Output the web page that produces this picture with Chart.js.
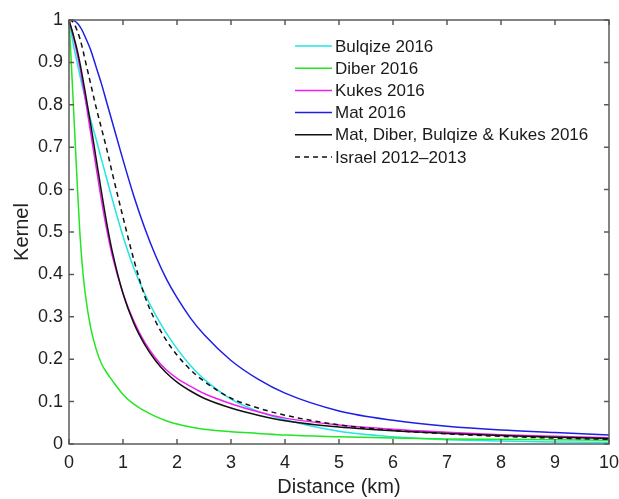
<!DOCTYPE html>
<html>
<head>
<meta charset="utf-8">
<script src="https://cdn.jsdelivr.net/npm/chart.js@4.4.0/dist/chart.umd.min.js"></script>
<style>
  html, body { margin: 0; padding: 0; background: #fff; }
  #wrap { width: 619px; height: 499px; }
</style>
</head>
<body>
<div id="wrap"><canvas id="kernelChart" width="619" height="499"></canvas></div>
<script>
// distance from source (km) and kernel values read at each distance
const distance = [0, 0.05, 0.1, 0.15, 0.2, 0.25, 0.3, 0.4, 0.5, 0.6, 0.7, 0.8, 1.0, 1.2, 1.4, 1.6, 1.8, 2.0, 2.25, 2.5, 3, 3.5, 4, 5, 6, 7, 8, 9, 10];

const bulqize = [1, 0.963, 0.93, 0.9, 0.87, 0.842, 0.815, 0.765, 0.72, 0.672, 0.625, 0.578, 0.49, 0.415, 0.355, 0.305, 0.262, 0.225, 0.185, 0.153, 0.106, 0.077, 0.057, 0.03, 0.017, 0.010, 0.007, 0.005, 0.004];
const diber = [1, 0.88, 0.75, 0.62, 0.5, 0.415, 0.355, 0.275, 0.225, 0.19, 0.168, 0.15, 0.117, 0.094, 0.078, 0.065, 0.055, 0.047, 0.04, 0.035, 0.029, 0.025, 0.021, 0.017, 0.014, 0.012, 0.011, 0.01, 0.009];
const kukes = [1, 0.976, 0.95, 0.921, 0.89, 0.853, 0.815, 0.735, 0.655, 0.575, 0.505, 0.445, 0.355, 0.29, 0.24, 0.203, 0.175, 0.155, 0.136, 0.119, 0.095, 0.076, 0.061, 0.045, 0.035, 0.028, 0.022, 0.018, 0.015];
const mat = [1, 0.9995, 0.998, 0.993, 0.985, 0.974, 0.96, 0.93, 0.89, 0.85, 0.805, 0.76, 0.67, 0.585, 0.51, 0.445, 0.39, 0.345, 0.297, 0.258, 0.197, 0.153, 0.12, 0.078, 0.056, 0.042, 0.033, 0.027, 0.021];
const combined = [1, 0.978, 0.955, 0.93, 0.9, 0.866, 0.83, 0.755, 0.675, 0.595, 0.52, 0.455, 0.355, 0.285, 0.235, 0.197, 0.168, 0.146, 0.125, 0.108, 0.085, 0.068, 0.055, 0.04, 0.031, 0.025, 0.02, 0.016, 0.013];
const israel = [1, 0.998, 0.99, 0.975, 0.957, 0.933, 0.905, 0.85, 0.795, 0.745, 0.695, 0.64, 0.535, 0.435, 0.35, 0.29, 0.245, 0.21, 0.175, 0.148, 0.108, 0.085, 0.068, 0.045, 0.032, 0.024, 0.018, 0.014, 0.011];

const FONT = '"Liberation Sans", Arial, Helvetica, sans-serif';
Chart.defaults.font.family = FONT;

function pts(values) {
    return distance.map((d, i) => ({ x: d, y: values[i] }));
}

function series(label, values, color, order, dash) {
    return {
        label: label,
        data: pts(values),
        borderColor: color,
        backgroundColor: color,
        borderWidth: 1.5,
        borderDash: dash || [],
        pointRadius: 0,
        fill: false,
        cubicInterpolationMode: 'monotone',
        clip: 4,
        order: order
    };
}

// box round the plot with inward tick marks on all four sides
const axesBox = {
    id: 'axesBox',
    afterDatasetsDraw(chart) {
        const { ctx, chartArea: a, scales: { x, y } } = chart;
        ctx.save();
        ctx.strokeStyle = '#5b5b5b';
        ctx.lineWidth = 1.5;
        ctx.setLineDash([]);
        ctx.strokeRect(a.left, a.top, a.right - a.left, a.bottom - a.top);
        ctx.beginPath();
        x.ticks.forEach(t => {
            const px = x.getPixelForValue(t.value);
            ctx.moveTo(px, a.bottom); ctx.lineTo(px, a.bottom - 5);
            ctx.moveTo(px, a.top); ctx.lineTo(px, a.top + 5);
        });
        y.ticks.forEach(t => {
            const py = y.getPixelForValue(t.value);
            ctx.moveTo(a.left, py); ctx.lineTo(a.left + 5, py);
            ctx.moveTo(a.right, py); ctx.lineTo(a.right - 5, py);
        });
        ctx.stroke();
        ctx.restore();
    }
};

// legend without a frame, top right inside the axes
const legendInside = {
    id: 'legendInside',
    afterDatasetsDraw(chart) {
        const { ctx, chartArea } = chart;
        const x0 = chartArea.right - 314;
        let y = chartArea.top + 26;
        ctx.save();
        ctx.font = '17px ' + FONT;
        ctx.textBaseline = 'middle';
        ctx.textAlign = 'left';
        chart.data.datasets.forEach(ds => {
            ctx.strokeStyle = ds.borderColor;
            ctx.lineWidth = ds.borderWidth;
            ctx.setLineDash(ds.borderDash);
            ctx.beginPath();
            ctx.moveTo(x0, y);
            ctx.lineTo(x0 + 37, y);
            ctx.stroke();
            ctx.fillStyle = '#1a1a1a';
            ctx.fillText(ds.label, x0 + 40, y + 1);
            y += 22.2;
        });
        ctx.restore();
    }
};

const config = {
    type: 'line',
    data: {
        datasets: [
            series('Bulqize 2016', bulqize, '#22e5e5', 5),
            series('Diber 2016', diber, '#22e622', 4),
            series('Kukes 2016', kukes, '#f01ef0', 3),
            series('Mat 2016', mat, '#1e1ee6', 2),
            series('Mat, Diber, Bulqize & Kukes 2016', combined, '#111111', 1),
            series('Israel 2012\u20132013', israel, '#111111', 0, [5, 4])
        ]
    },
    options: {
        responsive: false,
        animation: false,
        layout: { padding: { top: 20, right: 10, left: 0, bottom: 0 } },
        plugins: {
            legend: { display: false },
            tooltip: { enabled: false }
        },
        scales: {
            x: {
                type: 'linear',
                min: 0,
                max: 10,
                grid: { display: false, drawTicks: false },
                border: { display: false },
                ticks: { stepSize: 1, padding: 8, color: '#222', font: { size: 18 }, maxRotation: 0 },
                title: { display: true, text: 'Distance (km)', color: '#222', font: { size: 20 }, padding: 0 },
                afterFit(scale) {
                    scale.height = 55;
                    scale.paddingLeft = 0;
                    scale.paddingRight = 0;
                }
            },
            y: {
                type: 'linear',
                min: 0,
                max: 1,
                grid: { display: false, drawTicks: false },
                border: { display: false },
                ticks: {
                    stepSize: 0.1,
                    padding: 6,
                    color: '#222',
                    font: { size: 18 },
                    callback: v => String(Math.round(v * 10) / 10)
                },
                title: { display: true, text: 'Kernel', color: '#222', font: { size: 20 }, padding: { top: 10, bottom: 0 } },
                afterFit(scale) { scale.width = 69; }
            }
        }
    },
    plugins: [axesBox, legendInside]
};

var kernelChart = new Chart(document.getElementById('kernelChart'), config);
</script>
</body>
</html>
